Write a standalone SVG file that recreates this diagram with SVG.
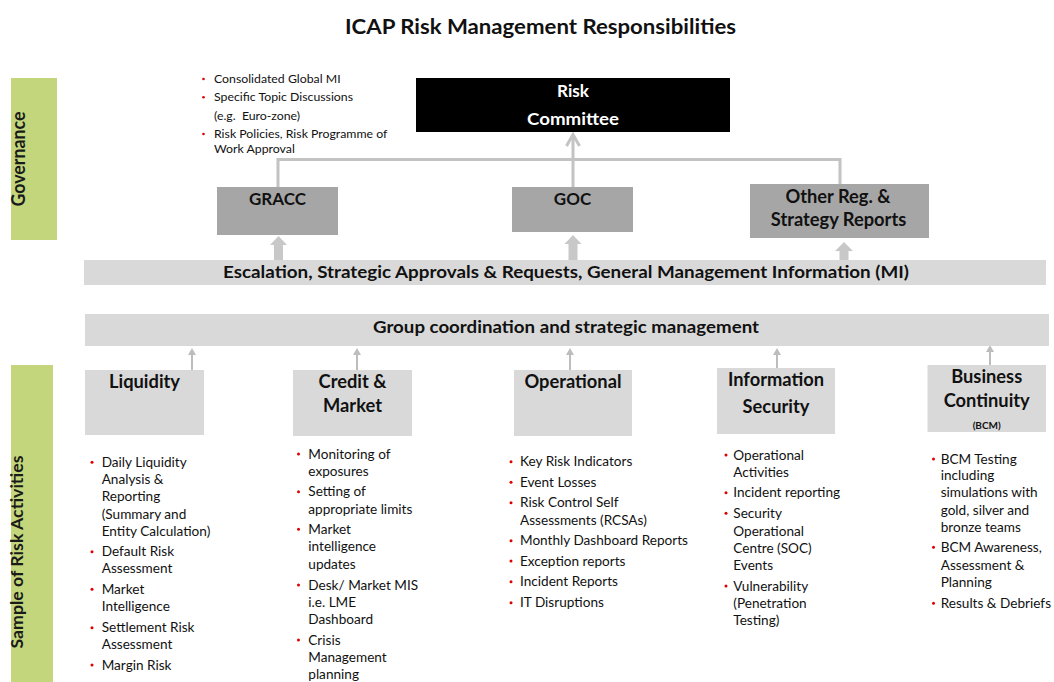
<svg xmlns="http://www.w3.org/2000/svg" width="1054" height="682" viewBox="0 0 1054 682">
<style>
text{font-family:Lato,"Open Sans","Liberation Sans",sans-serif;fill:#111}
.t{font-weight:bold;font-size:20px}
.band{fill:#c3d67b}
.bandt{font-weight:bold;font-size:18px;fill:#1a1a1a}
.dk{fill:#a6a6a6}
.lt{fill:#d9d9d9}
.h{font-weight:bold;font-size:17px;text-anchor:middle}
.h2{font-weight:bold;font-size:18.3px;text-anchor:middle}
.hw{font-weight:bold;font-size:17px;text-anchor:middle;fill:#fff}
.bar{font-weight:bold;font-size:17px;text-anchor:middle}
.b{font-size:13.6px}
.s{font-size:12.3px}
.dot{fill:#e00000}
.con{fill:none;stroke:#c3c3c3;stroke-width:3}
.sm{fill:none;stroke:#bdbdbd;stroke-width:2}
.blk{fill:#c8c8c8}
.smh{fill:#bdbdbd}
</style>
<rect width="1054" height="682" fill="#fff"/>
<text class="t" x="540.5" y="34" text-anchor="middle" textLength="391" lengthAdjust="spacingAndGlyphs">ICAP Risk Management Responsibilities</text>

<g id="governance">
<rect class="band" x="11" y="78" width="46" height="162"/>
<text class="bandt" transform="translate(25,159) rotate(-90)" text-anchor="middle" textLength="95" lengthAdjust="spacingAndGlyphs">Governance</text>
</g>
<g id="sample-band">
<rect class="band" x="11" y="365" width="42" height="317"/>
<text class="bandt" transform="translate(23,552) rotate(-90)" text-anchor="middle" textLength="193" lengthAdjust="spacingAndGlyphs" style="font-size:17px">Sample of Risk Activities</text>
</g>

<g id="connectors">
<polyline class="con" points="278,187 278,159.5 840,159.5 840,184"/>
<line class="con" x1="573" y1="187" x2="573" y2="135"/>
<polyline class="con" points="566.5,146 573,134.5 579.5,146"/>
<polygon class="blk" points="274,260 274,245 270,245 278.5,236 287,245 283,245 283,260"/>
<polygon class="blk" points="568.5,260 568.5,244 564.5,244 573,235 581.5,244 577.5,244 577.5,260"/>
<polygon class="blk" points="839.5,260 839.5,251 835,251 844,242 853,251 848.5,251 848.5,260"/>
<line class="sm" x1="192" y1="370" x2="192" y2="354"/><polygon class="smh" points="188,355 192,348 196,355"/>
<line class="sm" x1="357" y1="370" x2="357" y2="354"/><polygon class="smh" points="353,355 357,348 361,355"/>
<line class="sm" x1="570" y1="370" x2="570" y2="354"/><polygon class="smh" points="566,355 570,348 574,355"/>
<line class="sm" x1="777" y1="368" x2="777" y2="354"/><polygon class="smh" points="773,355 777,348 781,355"/>
<line class="sm" x1="990" y1="365" x2="990" y2="351"/><polygon class="smh" points="986,352 990,345 994,352"/>
</g>

<g id="risk-committee">
<rect x="416" y="78" width="314" height="54" fill="#000"/>
<text class="hw" x="573" y="97" textLength="32" lengthAdjust="spacingAndGlyphs">Risk</text>
<text class="hw" x="573" y="125" textLength="92" lengthAdjust="spacingAndGlyphs">Committee</text>
</g>

<g id="governance-notes">
<circle class="dot" cx="203.5" cy="79" r="1.3"/>
<circle class="dot" cx="203.5" cy="97.3" r="1.3"/>
<circle class="dot" cx="203.5" cy="134" r="1.3"/>
<text class="s" style="white-space:pre"><tspan x="214" y="83">Consolidated Global MI</tspan><tspan x="214" y="101.3">Specific Topic Discussions</tspan><tspan x="214" y="119.7">(e.g.  Euro-zone)</tspan><tspan x="214" y="138">Risk Policies, Risk Programme of</tspan><tspan x="214" y="153.3">Work Approval</tspan></text>
</g>

<g id="gracc">
<rect class="dk" x="217" y="187" width="121" height="48"/>
<text class="h" x="277.5" y="205">GRACC</text>
</g>
<g id="goc">
<rect class="dk" x="512" y="187" width="121" height="45"/>
<text class="h" x="572.5" y="205">GOC</text>
</g>
<g id="other-reports">
<rect class="dk" x="750" y="184" width="179" height="54"/>
<text class="h2" x="838" y="203">Other Reg. &amp;</text>
<text class="h2" x="838.5" y="225.5">Strategy Reports</text>
</g>

<g id="escalation">
<rect class="lt" x="84" y="260" width="962" height="25"/>
<text class="bar" x="566" y="278" textLength="686" lengthAdjust="spacingAndGlyphs">Escalation, Strategic Approvals &amp; Requests, General Management Information (MI)</text>
</g>
<g id="group-coordination">
<rect class="lt" x="85" y="314" width="964" height="32"/>
<text class="bar" x="566" y="333" textLength="386" lengthAdjust="spacingAndGlyphs">Group coordination and strategic management</text>
</g>

<g id="liquidity">
<rect class="lt" x="85" y="370" width="119" height="65"/>
<text class="h2" x="144.5" y="388">Liquidity</text>
<circle class="dot" cx="92" cy="462.3" r="1.5"/><circle class="dot" cx="92" cy="551.7" r="1.5"/><circle class="dot" cx="92" cy="589.3" r="1.5"/><circle class="dot" cx="92" cy="627.7" r="1.5"/><circle class="dot" cx="92" cy="665" r="1.5"/>
<text class="b"><tspan x="101.7" y="466.8">Daily Liquidity</tspan><tspan x="101.7" y="483.8">Analysis &amp;</tspan><tspan x="101.7" y="501.2">Reporting</tspan><tspan x="101.7" y="518.5">(Summary and</tspan><tspan x="101.7" y="536.2">Entity Calculation)</tspan><tspan x="101.7" y="556.2">Default Risk</tspan><tspan x="101.7" y="572.8">Assessment</tspan><tspan x="101.7" y="593.8">Market</tspan><tspan x="101.7" y="611.2">Intelligence</tspan><tspan x="101.7" y="632.2">Settlement Risk</tspan><tspan x="101.7" y="648.8">Assessment</tspan><tspan x="101.7" y="669.5">Margin Risk</tspan></text>
</g>

<g id="credit-market">
<rect class="lt" x="293" y="370" width="119" height="66"/>
<text class="h2" x="352.5" y="388">Credit &amp;</text>
<text class="h2" x="352.5" y="411.5">Market</text>
<circle class="dot" cx="298.5" cy="454" r="1.5"/><circle class="dot" cx="298.5" cy="491.7" r="1.5"/><circle class="dot" cx="298.5" cy="529.3" r="1.5"/><circle class="dot" cx="298.5" cy="585" r="1.5"/><circle class="dot" cx="298.5" cy="640" r="1.5"/>
<text class="b"><tspan x="308.3" y="458.5">Monitoring of</tspan><tspan x="308.3" y="475.5">exposures</tspan><tspan x="308.3" y="496.2">Setting of</tspan><tspan x="308.3" y="513.5">appropriate limits</tspan><tspan x="308.3" y="533.8">Market</tspan><tspan x="308.3" y="551.2">intelligence</tspan><tspan x="308.3" y="568.8">updates</tspan><tspan x="308.3" y="589.5">Desk/ Market MIS</tspan><tspan x="308.3" y="606.8">i.e. LME</tspan><tspan x="308.3" y="623.8">Dashboard</tspan><tspan x="308.3" y="644.5">Crisis</tspan><tspan x="308.3" y="661.8">Management</tspan><tspan x="308.3" y="678.8">planning</tspan></text>
</g>

<g id="operational">
<rect class="lt" x="514" y="370" width="118" height="66"/>
<text class="h2" x="573" y="388">Operational</text>
<circle class="dot" cx="511" cy="461.7" r="1.5"/><circle class="dot" cx="511" cy="482.3" r="1.5"/><circle class="dot" cx="511" cy="502.7" r="1.5"/><circle class="dot" cx="511" cy="540.7" r="1.5"/><circle class="dot" cx="511" cy="561" r="1.5"/><circle class="dot" cx="511" cy="581.7" r="1.5"/><circle class="dot" cx="511" cy="602.7" r="1.5"/>
<text class="b"><tspan x="520" y="466.2">Key Risk Indicators</tspan><tspan x="520" y="486.8">Event Losses</tspan><tspan x="520" y="507.2">Risk Control Self</tspan><tspan x="520" y="524.5">Assessments (RCSAs)</tspan><tspan x="520" y="545.2">Monthly Dashboard Reports</tspan><tspan x="520" y="565.5">Exception reports</tspan><tspan x="520" y="586.2">Incident Reports</tspan><tspan x="520" y="607.2">IT Disruptions</tspan></text>
</g>

<g id="information-security">
<rect class="lt" x="717" y="368" width="118" height="66"/>
<text class="h2" x="776" y="385.5">Information</text>
<text class="h2" x="776" y="413">Security</text>
<circle class="dot" cx="726" cy="455" r="1.5"/><circle class="dot" cx="726" cy="492.7" r="1.5"/><circle class="dot" cx="726" cy="513.3" r="1.5"/><circle class="dot" cx="726" cy="586" r="1.5"/>
<text class="b"><tspan x="733.3" y="459.5">Operational</tspan><tspan x="733.3" y="476.8">Activities</tspan><tspan x="733.3" y="497.2">Incident reporting</tspan><tspan x="733.3" y="517.8">Security</tspan><tspan x="733.3" y="535.5">Operational</tspan><tspan x="733.3" y="552.8">Centre (SOC)</tspan><tspan x="733.3" y="570.2">Events</tspan><tspan x="733.3" y="590.5">Vulnerability</tspan><tspan x="733.3" y="607.8">(Penetration</tspan><tspan x="733.3" y="625.2">Testing)</tspan></text>
</g>

<g id="business-continuity">
<rect class="lt" x="927.5" y="365" width="118.5" height="67"/>
<text class="h2" x="986.7" y="383">Business</text>
<text class="h2" x="986.7" y="406.5">Continuity</text>
<text class="h" x="986.7" y="428.5" style="font-size:10px">(BCM)</text>
<circle class="dot" cx="933.5" cy="459" r="1.5"/><circle class="dot" cx="933.5" cy="547.3" r="1.5"/><circle class="dot" cx="933.5" cy="603.3" r="1.5"/>
<text class="b"><tspan x="940.7" y="463.5">BCM Testing</tspan><tspan x="940.7" y="480.2">including</tspan><tspan x="940.7" y="497.2">simulations with</tspan><tspan x="940.7" y="514.5">gold, silver and</tspan><tspan x="940.7" y="531.8">bronze teams</tspan><tspan x="940.7" y="551.8">BCM Awareness,</tspan><tspan x="940.7" y="569.5">Assessment &amp;</tspan><tspan x="940.7" y="587.2">Planning</tspan><tspan x="940.7" y="607.8">Results &amp; Debriefs</tspan></text>
</g>
</svg>
